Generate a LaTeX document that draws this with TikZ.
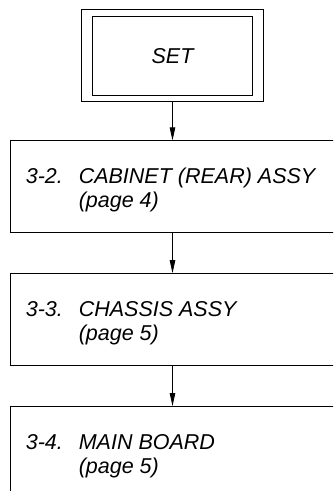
\documentclass[tikz,border=0pt]{standalone}
\usepackage{fontspec}
\setmainfont{Liberation Sans}
\usepackage{tikz}
\usetikzlibrary{arrows.meta,positioning}

\begin{document}
\begin{tikzpicture}[
    node distance=40pt,
    frame/.style={rectangle,draw,line width=0.8pt,minimum width=182pt,minimum height=92pt},
    inframe/.style={rectangle,draw,line width=0.7pt,minimum width=160pt,minimum height=79pt,font=\fontsize{21.5}{24}\selectfont\itshape},
    stage/.style={rectangle,draw,line width=0.8pt,minimum width=325pt,minimum height=92pt},
    caption/.style={anchor=base west,inner sep=0pt,align=left,font=\fontsize{21.5}{24}\selectfont\itshape},
    flow/.style={-{Triangle[length=13pt,width=5.5pt]},line width=0.8pt}
]
\useasboundingbox (0,0) rectangle (333pt,-491pt);
\clip (0,0) rectangle (333pt,-491pt);

% Start
\node[frame] (set) at (172.5pt,-55pt) {};
\node[inframe] (setin) at ([yshift=-1pt]set.center) {SET};

% Stages
\node[stage,below=39pt of set] (cab) {};
\node[stage,below=of cab] (chas) {};
\node[stage,below=of chas] (main) {};

% Texts (base anchor sits on the last line)
\node[caption] (tcab) at ([xshift=16pt,yshift=-67pt]cab.north west) {\makebox[53pt][l]{3-2.}CABINET (REAR) ASSY\\\hspace*{53pt}(page 4)};
\node[caption] (tchas) at ([xshift=16pt,yshift=-67pt]chas.north west) {\makebox[53pt][l]{3-3.}CHASSIS ASSY\\\hspace*{53pt}(page 5)};
\node[caption] (tmain) at ([xshift=16pt,yshift=-67pt]main.north west) {\makebox[53pt][l]{3-4.}MAIN BOARD\\\hspace*{53pt}(page 5)};

% Flow
\draw[flow] (set) -- (cab);
\draw[flow] (cab) -- (chas);
\draw[flow] (chas) -- (main);

\end{tikzpicture}
\end{document}
